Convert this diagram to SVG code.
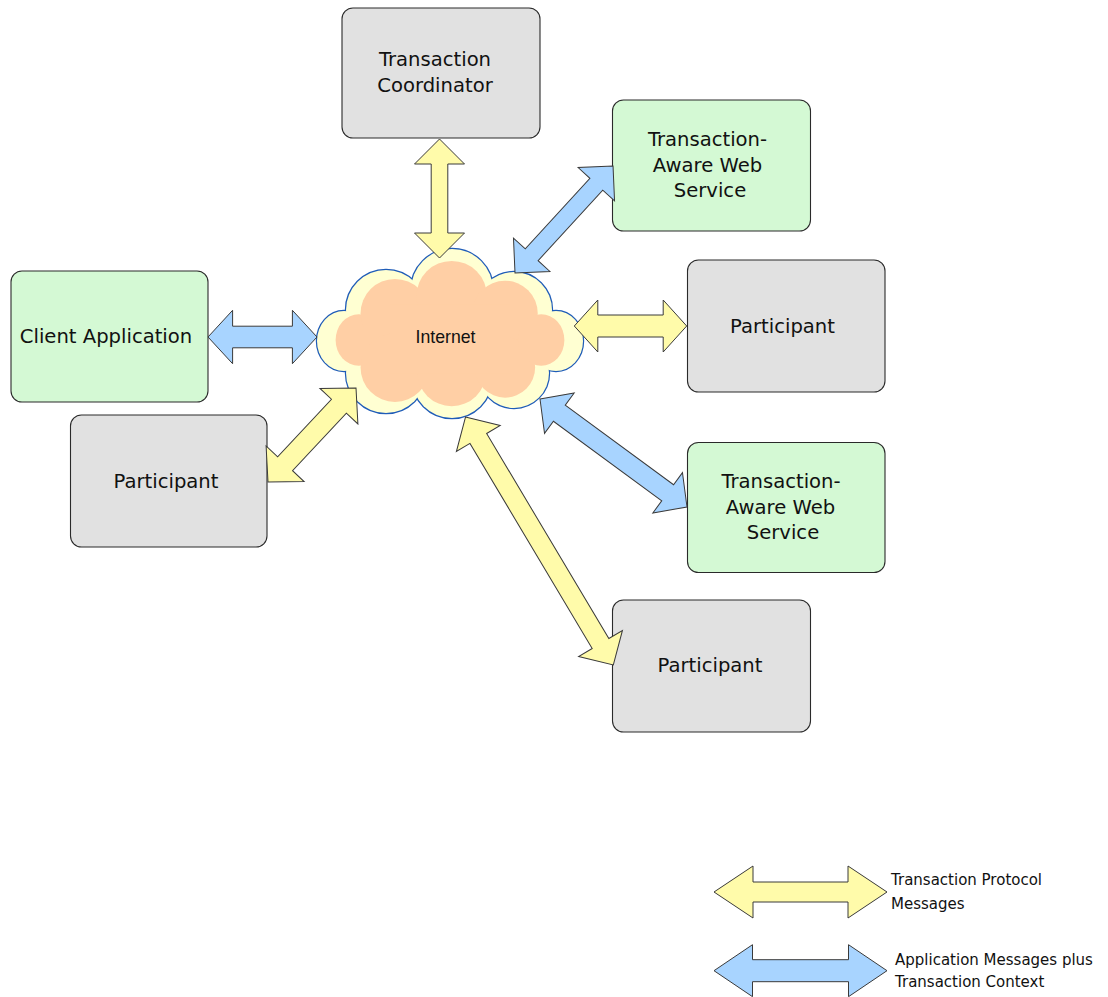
<svg xmlns="http://www.w3.org/2000/svg" xmlns:xlink="http://www.w3.org/1999/xlink" width="1108" height="997" viewBox="0 0 1108 997">
<style>
.box{stroke:#2a2a2a;stroke-width:1.1}
.gray{fill:#e1e1e1}
.green{fill:#d4f9d4}
.lbl{font-family:"DejaVu Sans",Verdana,sans-serif;font-size:19.6px;fill:#111;text-anchor:middle}
.leg{font-family:"DejaVu Sans",Verdana,sans-serif;font-size:15px;fill:#111}
.yel{fill:#fffbaa;stroke:#3a3a3a;stroke-width:1}
.blu{fill:#a8d4ff;stroke:#3a3a3a;stroke-width:1}
</style>
<defs>
<g id="cloudShape">
<ellipse cx="344" cy="341" rx="27" ry="30"/>
<circle cx="386" cy="310" r="40"/>
<circle cx="386" cy="373" r="40"/>
<circle cx="452" cy="290" r="41"/>
<circle cx="452" cy="378" r="40"/>
<circle cx="514" cy="310" r="38"/>
<circle cx="514" cy="373" r="35"/>
<ellipse cx="556" cy="341" rx="27" ry="30"/>
<rect x="380" y="300" width="140" height="80"/>
</g>
</defs>
<rect width="1108" height="997" fill="#fff"/>

<g id="internet">
<use xlink:href="#cloudShape" fill="none" stroke="#1f5cb8" stroke-width="2.4"/>
<use xlink:href="#cloudShape" fill="#ffffd2"/>
<use xlink:href="#cloudShape" fill="#ffcfa5" transform="translate(450,334) scale(0.86) translate(-450,-334)"/>
<text x="445.5" y="343" font-family="Liberation Sans,Arial,sans-serif" font-size="19" fill="#111" text-anchor="middle" textLength="60" lengthAdjust="spacingAndGlyphs">Internet</text>
</g>

<g id="coordinator">
<rect class="box gray" x="342" y="8" width="198" height="130" rx="11"/>
<text class="lbl" x="435" y="66">Transaction</text>
<text class="lbl" x="435" y="92">Coordinator</text>
</g>

<g id="tws-top">
<rect class="box green" x="612.5" y="100" width="198" height="131" rx="11"/>
<text class="lbl" x="707.5" y="146">Transaction-</text>
<text class="lbl" x="707.5" y="171.5">Aware Web</text>
<text class="lbl" x="710" y="197">Service</text>
</g>

<g id="client">
<rect class="box green" x="11" y="271" width="197" height="131" rx="11"/>
<text class="lbl" x="106" y="343">Client Application</text>
</g>

<g id="participant-left">
<rect class="box gray" x="70.5" y="415" width="196.5" height="132" rx="11"/>
<text class="lbl" x="166" y="488">Participant</text>
</g>

<g id="participant-right">
<rect class="box gray" x="687.5" y="260" width="197.5" height="132" rx="11"/>
<text class="lbl" x="782.5" y="333">Participant</text>
</g>

<g id="tws-bottom">
<rect class="box green" x="687.5" y="442.5" width="197.5" height="130" rx="11"/>
<text class="lbl" x="781" y="488">Transaction-</text>
<text class="lbl" x="780.5" y="513.5">Aware Web</text>
<text class="lbl" x="783" y="539">Service</text>
</g>

<g id="participant-bottom">
<rect class="box gray" x="612.5" y="600" width="198" height="132" rx="11"/>
<text class="lbl" x="710" y="672">Participant</text>
</g>

<g id="connectors">
<polygon class="yel" transform="translate(439.5,139) rotate(90)" points="0,0 25,-25 25,-8.3 94,-8.3 94,-25 119,0 94,25 94,8.3 25,8.3 25,25"/>
<polygon class="blu" transform="translate(515,273) rotate(-47.5)" points="0,0 24.7,-24.7 24.7,-8.7 120.4,-8.7 120.4,-24.7 145.1,0 120.4,24.7 120.4,8.7 24.7,8.7 24.7,24.7"/>
<polygon class="blu" transform="translate(208,337)" points="0,0 24.6,-26.7 24.6,-10.8 84.4,-10.8 84.4,-26.7 109,0 84.4,26.7 84.4,10.8 24.6,10.8 24.6,26.7"/>
<polygon class="yel" transform="translate(268,482) rotate(-46.9)" points="0,0 25,-26 25,-10.2 103.8,-10.2 103.8,-26 128.8,0 103.8,26 103.8,10.2 25,10.2 25,26"/>
<polygon class="yel" transform="translate(574.3,326)" points="0,0 23.5,-26 23.5,-11 88.9,-11 88.9,-26 112.4,0 88.9,26 88.9,11 23.5,11 23.5,26"/>
<polygon class="blu" transform="translate(540,399) rotate(36.3)" points="0,0 24,-25 24,-10 158.4,-10 158.4,-25 182.4,0 158.4,25 158.4,10 24,10 24,25"/>
<polygon class="yel" transform="translate(465.5,417) rotate(59.2)" points="0,0 25,-25.5 25,-9.7 263.7,-9.7 263.7,-25.5 288.7,0 263.7,25.5 263.7,9.7 25,9.7 25,25.5"/>
</g>

<g id="legend">
<polygon class="yel" transform="translate(714,892)" points="0,0 39,-26 39,-10 134,-10 134,-26 173,0 134,26 134,10 39,10 39,26"/>
<text class="leg" x="891" y="885">Transaction Protocol</text>
<text class="leg" x="891" y="908.5">Messages</text>
<polygon class="blu" transform="translate(714,970.7)" points="0,0 38.5,-26 38.5,-11 134.5,-11 134.5,-26 173,0 134.5,26 134.5,11 38.5,11 38.5,26"/>
<text class="leg" x="895" y="965">Application Messages plus</text>
<text class="leg" x="895" y="986.5">Transaction Context</text>
</g>
</svg>
